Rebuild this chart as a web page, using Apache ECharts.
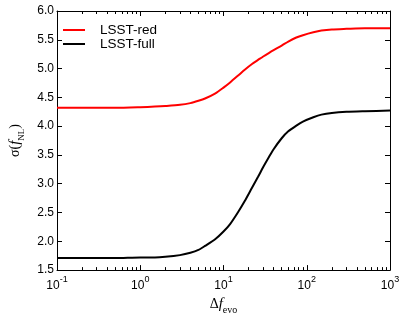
<!DOCTYPE html>
<html>
<head>
<meta charset="utf-8">
<script src="https://cdn.jsdelivr.net/npm/echarts@6/dist/echarts.min.js"></script>
<style>
html, body { margin: 0; padding: 0; background: #fff; }
#main { width: 407px; height: 320px; }
</style>
</head>
<body>
<div id="main"></div>
<script>
var evoValues   = [0.1, 0.2, 0.5, 1, 1.5, 2, 3, 4, 5, 6, 8, 10, 12, 15, 18, 22, 26, 30, 35, 40, 50, 60, 75, 90, 120, 150, 200, 300, 500, 1000];
var redSigma    = [4.32, 4.32, 4.32, 4.33, 4.34, 4.35, 4.37, 4.40, 4.44, 4.48, 4.57, 4.67, 4.76, 4.88, 4.98, 5.08, 5.15, 5.21, 5.27, 5.32, 5.40, 5.47, 5.54, 5.58, 5.63, 5.66, 5.68, 5.69, 5.70, 5.70];
var fullSigma   = [1.71, 1.71, 1.71, 1.72, 1.72, 1.73, 1.76, 1.80, 1.85, 1.92, 2.04, 2.17, 2.30, 2.51, 2.70, 2.93, 3.12, 3.29, 3.46, 3.60, 3.79, 3.91, 4.01, 4.08, 4.155, 4.20, 4.23, 4.25, 4.26, 4.27];
var seriesNames = ['LSST-red', 'LSST-full'];
var majorTicks  = [0.1, 1, 10, 100, 1000];
var minorTicks  = [0.2, 0.3, 0.4, 0.5, 0.6, 0.7, 0.8, 0.9,
                   2, 3, 4, 5, 6, 7, 8, 9,
                   20, 30, 40, 50, 60, 70, 80, 90,
                   200, 300, 400, 500, 600, 700, 800, 900];

function pairs(xs, ys)
{
    var out = [];
    for(var i = 0; i < xs.length; i++) out.push([xs[i], ys[i]]);
    return out;
}

var sansFont  = 'Liberation Sans';
var serifFont = 'Liberation Serif';
var lineStyle = {color: '#000', width: 1};

function logAxis(position, ticks, tickLength, showLine, showLabel)
{
    return {
        type: 'log',
        logBase: 10,
        min: 0.1,
        max: 1000,
        position: position,
        axisLine: {show: showLine, lineStyle: lineStyle},
        axisTick: {show: true, inside: true, length: tickLength, customValues: ticks, lineStyle: lineStyle},
        axisLabel: {
            show: showLabel,
            customValues: majorTicks,
            margin: 5,
            formatter: function(v)
            {
                return '{b|10}{s|' + Math.round(Math.log10(v)) + '}';
            },
            rich: {
                b: {fontFamily: sansFont, fontSize: 12, color: '#000', lineHeight: 17, verticalAlign: 'bottom'},
                s: {fontFamily: sansFont, fontSize: 9, color: '#000', lineHeight: 9, verticalAlign: 'top'}
            }
        },
        splitLine: {show: false},
        minorTick: {show: false}
    };
}

function valueAxis(position, showLabel)
{
    return {
        type: 'value',
        min: 1.5,
        max: 6.0,
        interval: 0.5,
        position: position,
        axisLine: {show: true, lineStyle: lineStyle},
        axisTick: {show: true, inside: true, length: 5, lineStyle: lineStyle},
        axisLabel: {
            show: showLabel,
            margin: 3,
            fontFamily: sansFont,
            fontSize: 12,
            color: '#000',
            formatter: function(v) { return v.toFixed(1); }
        },
        splitLine: {show: false}
    };
}

var xMain = logAxis('bottom', majorTicks, 5, true, true);
xMain.name = '{d|Δ}{f|f}{sub|evo}';
xMain.nameLocation = 'middle';
xMain.nameGap = 24;
xMain.nameTextStyle = {
    rich: {
        d:   {fontFamily: serifFont, fontSize: 14, color: '#000', lineHeight: 14, verticalAlign: 'top'},
        f:   {fontFamily: serifFont, fontSize: 15, fontStyle: 'italic', color: '#000', lineHeight: 14, verticalAlign: 'top'},
        sub: {fontFamily: serifFont, fontSize: 10, color: '#000', lineHeight: 18, verticalAlign: 'bottom'}
    }
};

var yMain = valueAxis('left', true);
yMain.name = '{s|σ}{p|(}{f|f}{sub|NL}{p|)}';
yMain.nameLocation = 'middle';
yMain.nameRotate = 90;
yMain.nameGap = 31;
yMain.nameTextStyle = {
    rich: {
        s:   {fontFamily: serifFont, fontSize: 14, color: '#000', lineHeight: 14, verticalAlign: 'top'},
        p:   {fontFamily: serifFont, fontSize: 14, color: '#000', lineHeight: 14, verticalAlign: 'top'},
        f:   {fontFamily: serifFont, fontSize: 15, fontStyle: 'italic', color: '#000', lineHeight: 14, verticalAlign: 'top'},
        sub: {fontFamily: serifFont, fontSize: 9, color: '#000', lineHeight: 18, verticalAlign: 'bottom'}
    }
};

var chart  = echarts.init(document.getElementById('main'), null, {renderer: 'canvas'});
var option = {
    animation: false,
    grid: {left: 44, right: 17, top: 11, bottom: 41, containLabel: false},
    legend: {
        data: seriesNames,
        orient: 'vertical',
        left: 58,
        top: 18,
        icon: 'rect',
        itemWidth: 22,
        itemHeight: 2,
        itemGap: 0,
        formatter: function(name) { return '{g|}{t|' + name + '}'; },
        textStyle: {
            lineHeight: 14,
            rich: {
                g: {width: 10, height: 14},
                t: {fontFamily: sansFont, fontSize: 13.5, color: '#000', lineHeight: 14}
            }
        }
    },
    xAxis: [
        xMain,
        logAxis('bottom', minorTicks, 3, false, false),
        logAxis('top', majorTicks, 5, true, false),
        logAxis('top', minorTicks, 3, false, false)
    ],
    yAxis: [
        yMain,
        valueAxis('right', false)
    ],
    series: [
        {
            name: seriesNames[0],
            type: 'line',
            xAxisIndex: 0,
            yAxisIndex: 0,
            showSymbol: false,
            smooth: 0.25,
            lineStyle: {color: '#ff0000', width: 2},
            itemStyle: {color: '#ff0000'},
            data: pairs(evoValues, redSigma)
        },
        {
            name: seriesNames[1],
            type: 'line',
            xAxisIndex: 0,
            yAxisIndex: 0,
            showSymbol: false,
            smooth: 0.25,
            lineStyle: {color: '#000000', width: 2},
            itemStyle: {color: '#000000'},
            data: pairs(evoValues, fullSigma)
        }
    ]
};
chart.setOption(option);
</script>
</body>
</html>
